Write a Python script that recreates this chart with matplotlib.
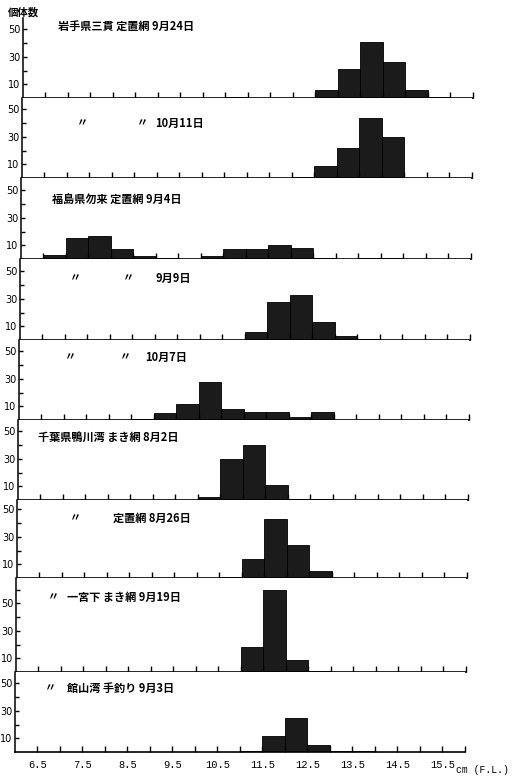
import matplotlib
matplotlib.use("Agg")
import matplotlib.pyplot as plt

# Body length classes (left edge of each 0.5 cm class)
bin_left = [6.5, 7.0, 7.5, 8.0, 8.5, 9.0, 9.5, 10.0, 10.5, 11.0,
            11.5, 12.0, 12.5, 13.0, 13.5, 14.0, 14.5, 15.0, 15.5]

# Number of individuals per class, one list per sample
iwate_0924 = [0, 0, 0, 0, 0, 0, 0, 0, 1, 0, 0, 0, 6, 21, 41, 26, 6, 1, 0]
iwate_1011 = [0, 0, 0, 0, 0, 0, 0, 0, 0, 0, 0, 1, 9, 22, 44, 30, 0, 0, 0]
fukushima_0904 = [3, 15, 17, 7, 2, 1, 0, 2, 7, 7, 10, 8, 1, 0, 1, 1, 0, 0, 0]
fukushima_0909 = [0, 0, 0, 0, 0, 0, 0, 0, 0, 6, 28, 33, 13, 3, 1, 0, 0, 0, 0]
fukushima_1007 = [0, 0, 0, 0, 1, 5, 12, 28, 8, 6, 6, 2, 6, 0, 0, 0, 0, 0, 0]
chiba_kamogawa_0802 = [0, 0, 0, 0, 0, 0, 0, 2, 30, 40, 11, 1, 1, 0, 0, 0, 0, 0, 0]
chiba_kamogawa_0826 = [0, 0, 0, 0, 0, 0, 0, 0, 1, 14, 43, 24, 5, 0, 0, 0, 0, 0, 0]
chiba_ichinomiya_0919 = [0, 0, 0, 0, 0, 0, 0, 0, 0, 18, 60, 9, 1, 0, 0, 0, 0, 0, 0]
chiba_tateyama_0903 = [0, 0, 0, 0, 0, 0, 0, 0, 0, 1, 12, 25, 5, 1, 1, 0, 0, 0, 0]

samples = [iwate_0924, iwate_1011, fukushima_0904, fukushima_0909, fukushima_1007,
           chiba_kamogawa_0802, chiba_kamogawa_0826, chiba_ichinomiya_0919,
           chiba_tateyama_0903]

titles = [
    ["岩手県三貫 定置網 9月24日"],
    ["〃", "〃", "10月11日"],
    ["福島県勿来 定置網 9月4日"],
    ["〃", "〃", "9月9日"],
    ["〃", "〃", "10月7日"],
    ["千葉県鴨川湾 まき網 8月2日"],
    ["〃", "定置網 8月26日"],
    ["〃", "一宮下 まき網 9月19日"],
    ["〃", "館山湾 手釣り 9月3日"],
]

x_ticks = [6.5 + 0.5 * k for k in range(20)]
x_labels = ["6.5", "7.5", "8.5", "9.5", "10.5", "11.5", "12.5", "13.5", "14.5", "15.5"]

# layout in pixels
W, H = 517, 779
AX_LEFT, AX_RIGHT = 19, 469
PX_PER_UNIT = 1.375
panel_top = [18, 98, 178, 259, 340, 420, 500, 578, 672]
panel_base = [98, 178, 259, 340, 420, 500, 578, 672, 752]
# the scanned page is slightly skewed: panels drift left going down
panel_shift = [4, 3, 2, 1, 0, -1, -2, -3, -4]
title_x = [[58], [77, 137, 155], [52], [70, 123, 155], [65, 120, 145],
           [38], [70, 113], [48, 67], [45, 67]]
title_y = [27, 123, 199, 278, 357, 437, 518, 597, 688]

cjk = ["Noto Sans CJK JP", "DejaVu Sans"]

fig = plt.figure(figsize=(W / 100, H / 100), dpi=100)

for i, vals in enumerate(samples):
    top, base = panel_top[i], panel_base[i]
    left = AX_LEFT + panel_shift[i]
    ax = fig.add_axes([left / W, 1 - base / H, (AX_RIGHT - AX_LEFT) / W, (base - top) / H])
    xs = [b for b, v in zip(bin_left, vals) if v > 0]
    hs = [v for v in vals if v > 0]
    ax.bar(xs, hs, width=0.5, align="edge", color="#1b1b1b", edgecolor="black", linewidth=0.6)

    ymax = (base - top) / PX_PER_UNIT
    ax.set_xlim(6.0, 16.0)
    ax.set_ylim(0, ymax)

    for s in ["top", "right"]:
        ax.spines[s].set_visible(False)
    ax.spines["left"].set_linewidth(1.1)
    ax.spines["bottom"].set_linewidth(1.2)

    yt = [v for v in [10, 20, 30, 40, 50, 60] if v < ymax - 2]
    ax.set_yticks(yt)
    ax.set_yticklabels([str(v) if v in (10, 30, 50) else "" for v in yt])
    ax.tick_params(axis="y", direction="in", length=3, width=1, pad=2, labelsize=7)

    ax.set_xticks(x_ticks)
    if i == len(samples) - 1:
        ax.set_xticklabels([x_labels[k // 2] if k % 2 == 0 else "" for k in range(len(x_ticks))],
                           family="Liberation Mono", fontsize=7.5)
    else:
        ax.set_xticklabels([])
    ax.tick_params(axis="x", direction="in", length=4, width=1, pad=6)

    for txt, xp in zip(titles[i], title_x[i]):
        fig.text(xp / W, 1 - title_y[i] / H, txt, family=cjk, fontsize=8,
                 fontweight="bold", ha="left", va="center")

fig.text(8 / W, 1 - 12 / H, "個体数", family=cjk, fontsize=7.5, fontweight="bold",
         ha="left", va="center")
fig.text(456 / W, 1 - 770 / H, "cm (F.L.)", family="Liberation Mono", fontsize=7,
         ha="left", va="center")

fig.savefig("out.png", dpi=100)
